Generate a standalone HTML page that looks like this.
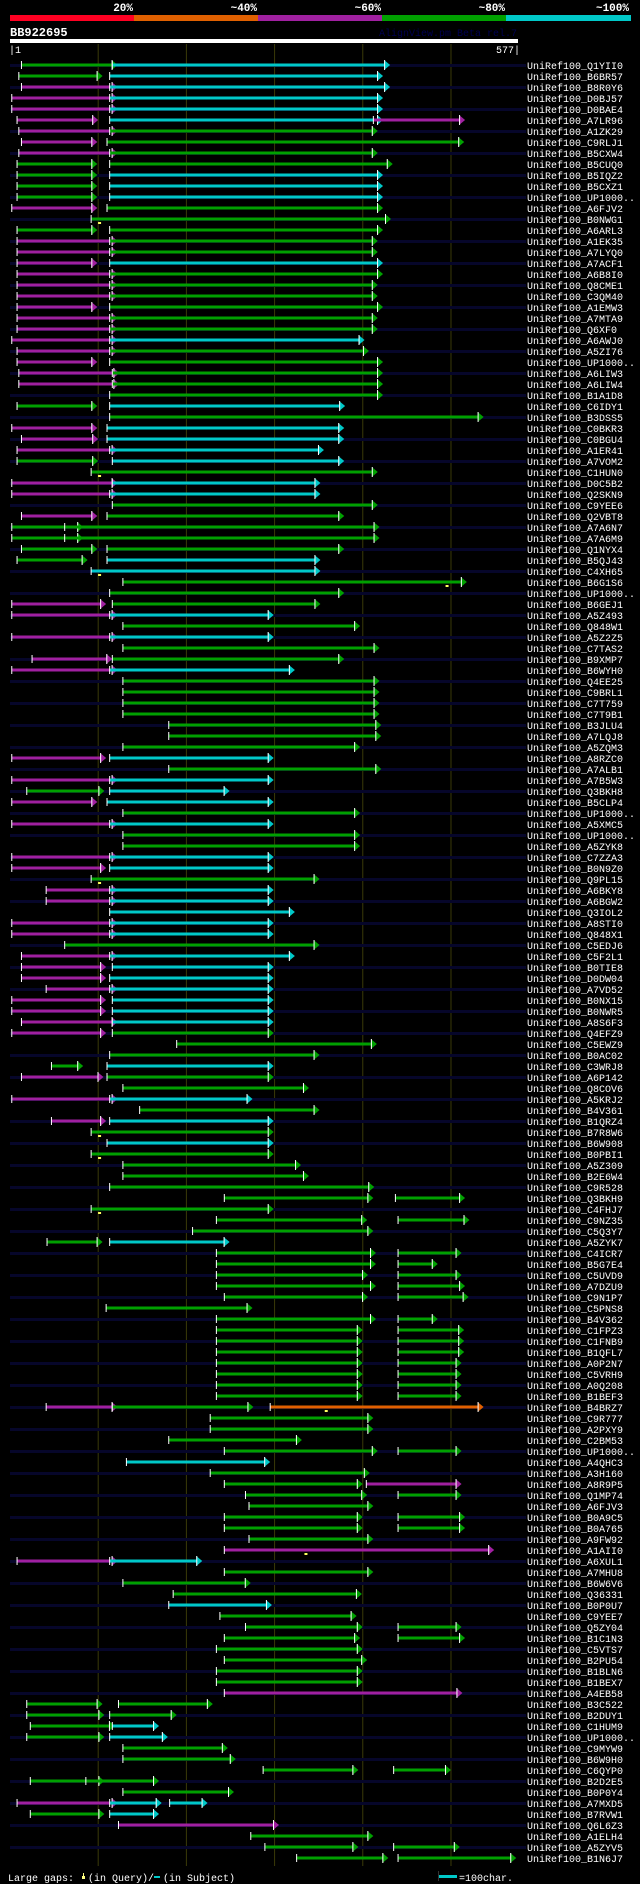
<!DOCTYPE html>
<html><head><meta charset="utf-8"><style>
html,body{margin:0;padding:0;background:#000;}
svg{display:block;}
text{font-family:"Liberation Mono",monospace;}
</style></head><body>
<svg id="chart" xmlns="http://www.w3.org/2000/svg" width="640" height="1884" viewBox="0 0 640 1884">
<rect x="0" y="0" width="640" height="1884" fill="#000"/>
<g>
<rect x="10" y="15" width="124" height="6" fill="#ff0022"/>
<rect x="134" y="15" width="124" height="6" fill="#e06000"/>
<rect x="258" y="15" width="124" height="6" fill="#a020a0"/>
<rect x="382" y="15" width="124" height="6" fill="#00a000"/>
<rect x="506" y="15" width="125" height="6" fill="#00c8c8"/>
<g font-size="11" font-weight="bold" fill="#fff" text-anchor="end">
<text x="133" y="11">20%</text>
<text x="257" y="11">~40%</text>
<text x="381" y="11">~60%</text>
<text x="505" y="11">~80%</text>
<text x="629" y="11">~100%</text>
</g></g>
<text x="10" y="36" font-size="12" font-weight="bold" fill="#fff">BB922695</text>
<text x="517" y="36" font-size="10" fill="#000050" text-anchor="end">AlignView.pm Beta rel.7</text>
<rect x="10" y="39" width="508" height="4" fill="#fff"/>
<text x="9" y="53" font-size="10" fill="#fff">|1</text>
<text x="520" y="53" font-size="10" fill="#fff" text-anchor="end">577|</text>
<g id="grid"></g>
<g id="rows"></g>
<g font-size="10" fill="#fff">
<text x="8" y="1881">Large gaps:</text>
<rect x="82" y="1876" width="3" height="3" fill="#ffff80"/>
<rect x="83" y="1873" width="1" height="3" fill="#ffff80"/>
<text x="88" y="1881">(in Query)/</text>
<rect x="154" y="1876" width="6" height="2" fill="#00c8c8"/>
<text x="163" y="1881">(in Subject)</text>
<rect x="438" y="1871" width="1" height="10" fill="#333"/>
<rect x="439" y="1875" width="18" height="3" fill="#00c8c8"/>
<text x="459" y="1881">=100char.</text>
</g>
</svg>
<script>
const rowLabels = ["Q1YII0","B6BR57","B8R0Y6","D0BJ57","D0BAE4","A7LR96","A1ZK29","C9RLJ1","B5CXW4","B5CUQ0",
"B5IQZ2","B5CXZ1","UP1000..","A6FJV2","B0NWG1","A6ARL3","A1EK35","A7LYQ0","A7ACF1","A6B8I0",
"Q8CME1","C3QM40","A1EMW3","A7MTA9","Q6XF0","A6AWJ0","A5ZI76","UP1000..","A6LIW3","A6LIW4","B1A1D8",
"C6IDY1","B3DSS5","C0BKR3","C0BGU4","A1ER41","A7VOM2","C1HUN0","D0C5B2","Q2SKN9","C9YEE6",
"Q2VBT8","A7A6N7","A7A6M9","Q1NYX4","B5QJ43","C4XH65","B6G1S6","UP1000..","B6GEJ1","A5Z493",
"Q848W1","A5Z2Z5","C7TAS2","B9XMP7","B6WYH0","Q4EE25","C9BRL1","C7T759","C7T9B1","B3JLU4",
"A7LQJ8","A5ZQM3","A8RZC0","A7ALB1","A7B5W3","Q3BKH8","B5CLP4","UP1000..","A5XMC5","UP1000..",
"A5ZYK8","C7ZZA3","B0N9Z0","Q9PL15","A6BKY8","A6BGW2","Q3IOL2","A8STI0","Q848X1","C5EDJ6",
"C5F2L1","B0TIE8","D0DW04","A7VD52","B0NX15","B0NWR5","A8S6F3","Q4EFZ9","C5EWZ9","B0AC02",
"C3WRJ8","A6P142","Q8COV6","A5KRJ2","B4V361","B1QRZ4","B7R8W6","B6W908","B0PBI1","A5Z309",
"B2E6W4","C9R528","Q3BKH9","C4FHJ7","C9NZ35","C5Q3Y7","A5ZYK7","C4ICR7","B5G7E4","C5UVD9",
"A7DZU9","C9N1P7","C5PNS8","B4V362","C1FPZ3","C1FNB9","B1QFL7","A0P2N7","C5VRH9","A0Q208",
"B1BEF3","B4BRZ7","C9R777","A2PXY9","C2BM53","UP1000..","A4QHC3","A3H160","A8R9P5","Q1MP74",
"A6FJV3","B0A9C5","B0A765","A9FW92","A1AII0","A6XUL1","A7MHU8","B6W6V6","Q36331","B0P0U7",
"C9YEE7","Q5ZY04","B1C1N3","C5VTS7","B2PU54","B1BLN6","B1BEX7","A4EB58","B3C522","B2DUY1",
"C1HUM9","UP1000..","C9MYW9","B6W9H0","C6QYP0","B2D2E5","B0P0Y4","A7MXD5","B7RVW1","Q6L6Z3",
"A1ELH4","A5ZYV5","B1N6J7"];

const rowSegments = [
[[14,123,'g'],[117,432,'c']],
[[11,106,'g'],[114,424,'c']],
[[14,123,'m'],[114,432,'c']],
[[3,123,'m'],[114,424,'c']],
[[3,123,'m'],[114,424,'c']],
[[9,101,'m'],[114,424,'c'],[413,517,'m']],
[[11,123,'m'],[114,418,'g']],
[[14,100,'m'],[111,516,'g']],
[[11,123,'m'],[114,418,'g']],
[[9,100,'g'],[114,435,'g']],
[[9,100,'g'],[114,424,'c']],
[[9,100,'g'],[114,424,'c']],
[[9,100,'g'],[114,424,'c']],
[[3,100,'m'],[111,424,'g']],
[[93,433,'g']],
[[9,100,'g'],[114,424,'g']],
[[9,123,'m'],[114,418,'g']],
[[9,123,'m'],[114,418,'g']],
[[9,100,'m'],[114,424,'c']],
[[9,123,'m'],[114,424,'g']],
[[9,123,'m'],[114,418,'g']],
[[9,123,'m'],[114,418,'g']],
[[9,100,'m'],[114,424,'g']],
[[9,123,'m'],[114,418,'g']],
[[9,123,'m'],[114,418,'g']],
[[3,123,'m'],[114,403,'c']],
[[9,123,'m'],[114,408,'g']],
[[9,100,'m'],[114,424,'g']],
[[11,125,'m'],[117,424,'g']],
[[11,125,'m'],[117,424,'g']],
[[114,424,'g']],
[[9,100,'g'],[114,381,'c']],
[[114,538,'g']],
[[3,100,'m'],[111,380,'c']],
[[14,101,'m'],[111,380,'c']],
[[9,123,'m'],[114,357,'c']],
[[9,101,'g'],[117,380,'c']],
[[93,418,'g']],
[[3,123,'m'],[117,353,'c']],
[[3,123,'m'],[114,353,'c']],
[[117,418,'g']],
[[14,100,'m'],[111,380,'g']],
[[3,84,'g'],[63,420,'g']],
[[3,84,'g'],[63,420,'g']],
[[14,100,'g'],[111,380,'g']],
[[9,89,'g'],[111,353,'c']],
[[93,353,'c']],
[[129,519,'g']],
[[114,380,'g']],
[[3,110,'m'],[117,353,'g']],
[[3,123,'m'],[114,300,'c']],
[[129,398,'g']],
[[3,123,'m'],[114,300,'c']],
[[129,420,'g']],
[[26,117,'m'],[117,380,'g']],
[[3,123,'m'],[114,324,'c']],
[[129,420,'g']],
[[129,420,'g']],
[[129,420,'g']],
[[129,420,'g']],
[[181,422,'g']],
[[181,422,'g']],
[[129,398,'g']],
[[3,110,'m'],[114,300,'c']],
[[181,422,'g']],
[[3,123,'m'],[114,300,'c']],
[[20,108,'g'],[114,250,'c']],
[[3,100,'m'],[111,300,'c']],
[[129,398,'g']],
[[3,123,'m'],[114,300,'c']],
[[129,398,'g']],
[[129,398,'g']],
[[3,123,'m'],[114,300,'c']],
[[3,110,'m'],[114,300,'c']],
[[93,352,'g']],
[[42,123,'m'],[114,300,'c']],
[[42,123,'m'],[114,300,'c']],
[[114,324,'c']],
[[3,123,'m'],[114,300,'c']],
[[3,123,'m'],[114,300,'c']],
[[63,352,'g']],
[[14,123,'m'],[114,324,'c']],
[[14,110,'m'],[117,300,'c']],
[[14,110,'m'],[114,300,'c']],
[[42,123,'m'],[114,300,'c']],
[[3,110,'m'],[117,300,'c']],
[[3,110,'m'],[117,300,'c']],
[[14,123,'m'],[117,300,'c']],
[[3,110,'m'],[117,300,'g']],
[[190,417,'g']],
[[114,352,'g']],
[[48,84,'g'],[111,300,'c']],
[[14,107,'m'],[111,300,'g']],
[[129,340,'g']],
[[3,123,'m'],[114,276,'c']],
[[148,352,'g']],
[[48,110,'m'],[114,300,'c']],
[[93,300,'g']],
[[111,300,'c']],
[[93,300,'g']],
[[129,331,'g']],
[[129,340,'g']],
[[114,414,'g']],
[[244,413,'g'],[438,517,'g']],
[[93,300,'g']],
[[235,406,'g'],[441,522,'g']],
[[208,413,'g']],
[[43,106,'g'],[114,250,'c']],
[[235,416,'g'],[441,513,'g']],
[[235,416,'g'],[441,486,'g']],
[[235,407,'g'],[441,513,'g']],
[[235,416,'g'],[441,517,'g']],
[[244,407,'g'],[441,521,'g']],
[[110,276,'g']],
[[235,416,'g'],[441,486,'g']],
[[235,401,'g'],[441,516,'g']],
[[235,401,'g'],[441,516,'g']],
[[235,401,'g'],[441,516,'g']],
[[235,401,'g'],[441,513,'g']],
[[235,401,'g'],[441,513,'g']],
[[235,401,'g'],[441,513,'g']],
[[235,401,'g'],[441,513,'g']],
[[42,123,'m'],[117,277,'g'],[296,538,'o']],
[[228,413,'g']],
[[228,413,'g']],
[[181,332,'g']],
[[244,418,'g'],[441,513,'g']],
[[133,296,'c']],
[[228,409,'g']],
[[244,401,'g'],[405,513,'m']],
[[268,406,'g'],[441,513,'g']],
[[272,413,'g']],
[[244,401,'g'],[441,517,'g']],
[[244,401,'g'],[441,517,'g']],
[[272,413,'g']],
[[244,550,'m']],
[[9,123,'m'],[114,219,'c']],
[[244,413,'g']],
[[129,274,'g']],
[[186,400,'g']],
[[181,298,'c']],
[[239,394,'g']],
[[268,401,'g'],[441,513,'g']],
[[244,398,'g'],[441,517,'g']],
[[235,401,'g']],
[[244,406,'g']],
[[235,401,'g']],
[[235,401,'g']],
[[244,514,'m']],
[[20,106,'g'],[124,231,'g']],
[[20,108,'g'],[114,190,'g']],
[[24,120,'g'],[117,170,'c']],
[[20,108,'g'],[114,180,'c']],
[[129,248,'g']],
[[129,257,'g']],
[[288,396,'g'],[436,501,'g']],
[[24,108,'g'],[87,170,'g']],
[[129,255,'g']],
[[9,123,'m'],[114,173,'c'],[182,225,'c']],
[[24,108,'g'],[114,170,'c']],
[[124,306,'m']],
[[274,413,'g']],
[[290,396,'g'],[436,511,'g']],
[[326,430,'g'],[441,575,'g']]
];

const gapMarks = [[15,102],[38,102],[47,102],[48,496],[75,102],[98,102],[100,102],[105,102],[123,359],[136,336]];
const gridTicks = [101,201,301,401,501];
const queryLength = 577;

const NS = "http://www.w3.org/2000/svg";
const COLORS = {g:"#00a000", c:"#00c8c8", m:"#a020a0", o:"#e06000"};
function xScale(r){ return 10 + (r-1)*508/(queryLength-1); }
function yRow(i){ return 65 + i*11; }
function mk(tag, attrs, parent){
  const el = document.createElementNS(NS, tag);
  for (const k in attrs) el.setAttribute(k, attrs[k]);
  parent.appendChild(el);
  return el;
}
const grid = document.getElementById('grid');
gridTicks.forEach(function(t){
  const gl = mk('rect', {x: xScale(t)-0.5, y: 44, width: 1, height: 1822, fill: '#3a3a08'}, grid);
  
  
});
const rowsG = document.getElementById('rows');
const nRows = Math.max(rowLabels.length, rowSegments.length);
for (let i = 0; i < nRows; i++){
  const y = yRow(i);
  const g = mk('g', {}, rowsG);
  
  
  if (i % 2 === 0){
    const tr = mk('rect', {x: 10, y: y-1, width: 516, height: 3, fill: '#06062a'}, g);
    
    
  }
  (rowSegments[i] || []).forEach(function(s){
    const x0 = xScale(s[0]), x1 = xScale(s[1]);
    const col = COLORS[s[2]];
    const bar = mk('rect', {x: x0, y: y-1.5, width: Math.max(0, x1-5-x0), height: 3, fill: col}, g);
    
    
    const arr = mk('polygon', {points: (x1-6)+','+(y-5)+' '+x1+','+y+' '+(x1-6)+','+(y+5), fill: col}, g);
    
    
    const ae = mk('rect', {x: x1-6, y: y-5, width: 1, height: 10, fill: '#fff'}, g);
    
    
    const tk = mk('rect', {x: x0-0.5, y: y-4, width: 1, height: 8, fill: '#fff'}, g);
    
    
  });
  if (rowLabels[i]){
    const t = mk('text', {x: 527, y: y+4, 'font-size': 10, fill: '#fff'}, g);
    t.textContent = 'UniRef100_' + rowLabels[i];
    
    
  }
}
gapMarks.forEach(function(gm){
  const y = yRow(gm[0]-1);
  const r = mk('rect', {x: xScale(gm[1])-1, y: y+3, width: 3, height: 2, fill: '#ffff60'}, rowsG);
  
  
});
</script>
</body></html>
